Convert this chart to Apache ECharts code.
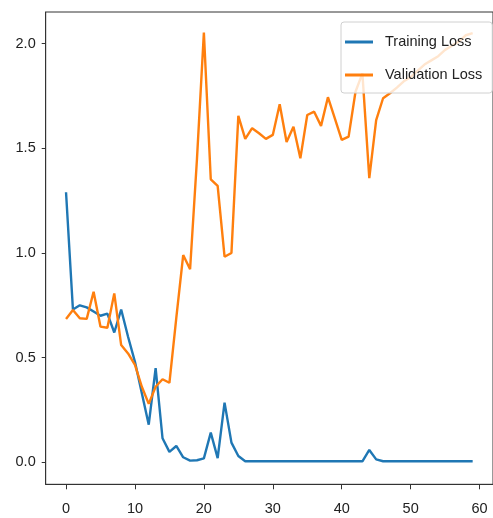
<!DOCTYPE html>
<html>
<head>
    <meta charset="utf-8">
    <title>Loss</title>
    <script src="https://cdn.jsdelivr.net/npm/echarts@6/dist/echarts.min.js"></script>
    <style>
        html, body { margin: 0; padding: 0; background: #fff; }
        #chart { width: 493px; height: 518px; }
    </style>
</head>
<body>
    <div id="chart"></div>
    <script type="text/javascript">
        // values
        var epochs = [];
        for (var e = 0; e < 60; e++) epochs.push(e);

        var trainLoss = [
            1.29, 0.73, 0.75, 0.74, 0.72, 0.70, 0.71, 0.62, 0.73, 0.60,
            0.48, 0.33, 0.18, 0.45, 0.115, 0.05, 0.078, 0.024, 0.008, 0.01,
            0.019, 0.142, 0.02, 0.285, 0.094, 0.03, 0.005, 0.005, 0.005, 0.005,
            0.005, 0.005, 0.005, 0.005, 0.005, 0.005, 0.005, 0.005, 0.005, 0.005,
            0.005, 0.005, 0.005, 0.005, 0.059, 0.014, 0.005, 0.005, 0.005, 0.005,
            0.005, 0.005, 0.005, 0.005, 0.005, 0.005, 0.005, 0.005, 0.005, 0.005
        ];
        var valLoss = [
            0.685, 0.728, 0.688, 0.685, 0.815, 0.648, 0.643, 0.807, 0.56, 0.52,
            0.465, 0.361, 0.279, 0.361, 0.397, 0.38, 0.69, 0.99, 0.922, 1.45,
            2.053, 1.352, 1.32, 0.982, 1.0, 1.655, 1.545, 1.596, 1.572, 1.545,
            1.564, 1.71, 1.53, 1.603, 1.452, 1.659, 1.675, 1.607, 1.744, 1.643,
            1.54, 1.556, 1.77, 1.858, 1.357, 1.635, 1.739, 1.763, 1.79, 1.82,
            1.84, 1.87, 1.90, 1.92, 1.94, 1.97, 1.99, 2.01, 2.04, 2.05
        ];
        var xTicks = [0, 10, 20, 30, 40, 50, 60];
        var yTicks = [0, 0.5, 1.0, 1.5, 2.0];
        var seriesNames = ['Training Loss', 'Validation Loss'];

        function pairs(ys) {
            var out = [];
            for (var i = 0; i < epochs.length; i++) out.push([epochs[i], ys[i]]);
            return out;
        }

        var font = "'Liberation Sans', Arial, sans-serif";
        var myChart = echarts.init(document.getElementById('chart'));

        var option = {
            animation: false,
            backgroundColor: '#fff',
            grid: {
                left: 45.7, top: 12, width: 452.7, height: 472.3,
                show: true, borderColor: '#333', borderWidth: 1
            },
            legend: {
                data: seriesNames,
                orient: 'vertical',
                left: 341, top: 22,
                icon: 'rect',
                itemWidth: 28, itemHeight: 3,
                itemGap: 13,
                padding: [10, 10, 8, 4],
                backgroundColor: 'rgba(255,255,255,0.8)',
                borderColor: '#d0d0d0', borderWidth: 1, borderRadius: 3,
                textStyle: {
                    fontFamily: font, fontSize: 14.5, color: '#222',
                    lineHeight: 20, padding: [0, 0, 0, 7]
                }
            },
            xAxis: {
                type: 'value',
                min: -2.95, max: 61.95,
                splitLine: { show: false },
                axisLine: { onZero: false, lineStyle: { color: '#333', width: 1 } },
                axisTick: { customValues: xTicks, length: 5, lineStyle: { color: '#333' } },
                axisLabel: {
                    customValues: xTicks, margin: 17,
                    fontFamily: font, fontSize: 14.5, color: '#222'
                }
            },
            yAxis: {
                type: 'value',
                min: -0.105, max: 2.151,
                splitLine: { show: false },
                axisLine: { show: true, onZero: false, lineStyle: { color: '#333', width: 1 } },
                axisTick: { show: true, customValues: yTicks, length: 4, lineStyle: { color: '#333' } },
                axisLabel: {
                    customValues: yTicks, margin: 10,
                    fontFamily: font, fontSize: 14.5, color: '#222',
                    formatter: function (v) { return v.toFixed(1); }
                }
            },
            series: [
                {
                    name: seriesNames[0],
                    type: 'line',
                    data: pairs(trainLoss),
                    showSymbol: false, symbol: 'none',
                    color: '#1f77b4',
                    lineStyle: { width: 2.4, color: '#1f77b4' }
                },
                {
                    name: seriesNames[1],
                    type: 'line',
                    data: pairs(valLoss),
                    showSymbol: false, symbol: 'none',
                    color: '#ff7f0e',
                    lineStyle: { width: 2.4, color: '#ff7f0e' }
                }
            ]
        };

        myChart.setOption(option);
    </script>
</body>
</html>
